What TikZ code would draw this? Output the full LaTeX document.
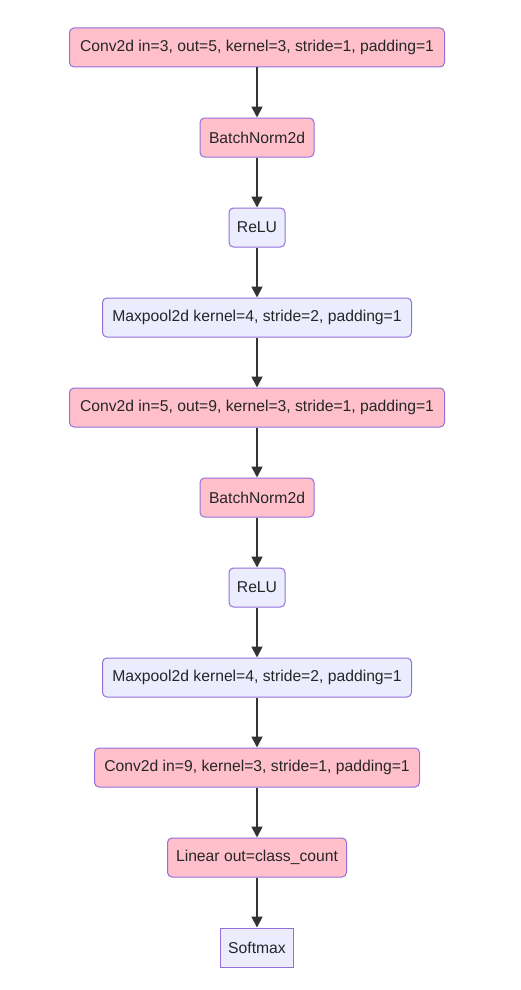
\documentclass[tikz,border=0pt]{standalone}
\usepackage{fontspec}
\setmainfont{Liberation Sans}
\usetikzlibrary{arrows.meta}
\definecolor{pinkfill}{HTML}{FFC0CB}
\definecolor{lavfill}{HTML}{ECECFF}
\definecolor{bord}{HTML}{9370DB}
\definecolor{arr}{HTML}{333333}
\begin{document}
\begin{tikzpicture}[x=1pt,y=-1pt,
  base/.style={draw=bord, line width=1pt, minimum height=39pt, inner sep=0pt, font=\fontsize{15.7}{18}\selectfont, text=black!85, rounded corners=4.5pt},
  pinkbox/.style={base, fill=pinkfill},
  lavbox/.style={base, fill=lavfill},
  conn/.style={draw=arr, line width=1.8pt, -{Triangle[length=11pt,width=11pt]}}]
\fill[white] (0,0) rectangle (521,990);
\useasboundingbox (0,0) rectangle (521,990);
\node[pinkbox, minimum width=375pt] (c1) at (257,47.5) {Conv2d in=3, out=5, kernel=3, stride=1, padding=1};
\node[pinkbox, minimum width=114pt] (b1) at (257,137.5) {BatchNorm2d};
\node[lavbox, minimum width=56pt] (r1) at (257,227.5) {ReLU};
\node[lavbox, minimum width=309pt] (m1) at (257,317.5) {Maxpool2d kernel=4, stride=2, padding=1};
\node[pinkbox, minimum width=375pt] (c2) at (257,407.5) {Conv2d in=5, out=9, kernel=3, stride=1, padding=1};
\node[pinkbox, minimum width=114pt] (b2) at (257,497.5) {BatchNorm2d};
\node[lavbox, minimum width=56pt] (r2) at (257,587.5) {ReLU};
\node[lavbox, minimum width=309pt] (m2) at (257,677.5) {Maxpool2d kernel=4, stride=2, padding=1};
\node[pinkbox, minimum width=325pt] (c3) at (257,767.5) {Conv2d in=9, kernel=3, stride=1, padding=1};
\node[pinkbox, minimum width=179pt] (l1) at (257,857.5) {Linear out=class\_count};
\node[lavbox, rounded corners=0pt, minimum width=73pt] (s1) at (257,947.5) {Softmax};
\foreach \a/\b in {c1/b1,b1/r1,r1/m1,m1/c2,c2/b2,b2/r2,r2/m2,m2/c3,c3/l1,l1/s1}
  \draw[conn] (\a.south) -- (\b.north);
\end{tikzpicture}
\end{document}
